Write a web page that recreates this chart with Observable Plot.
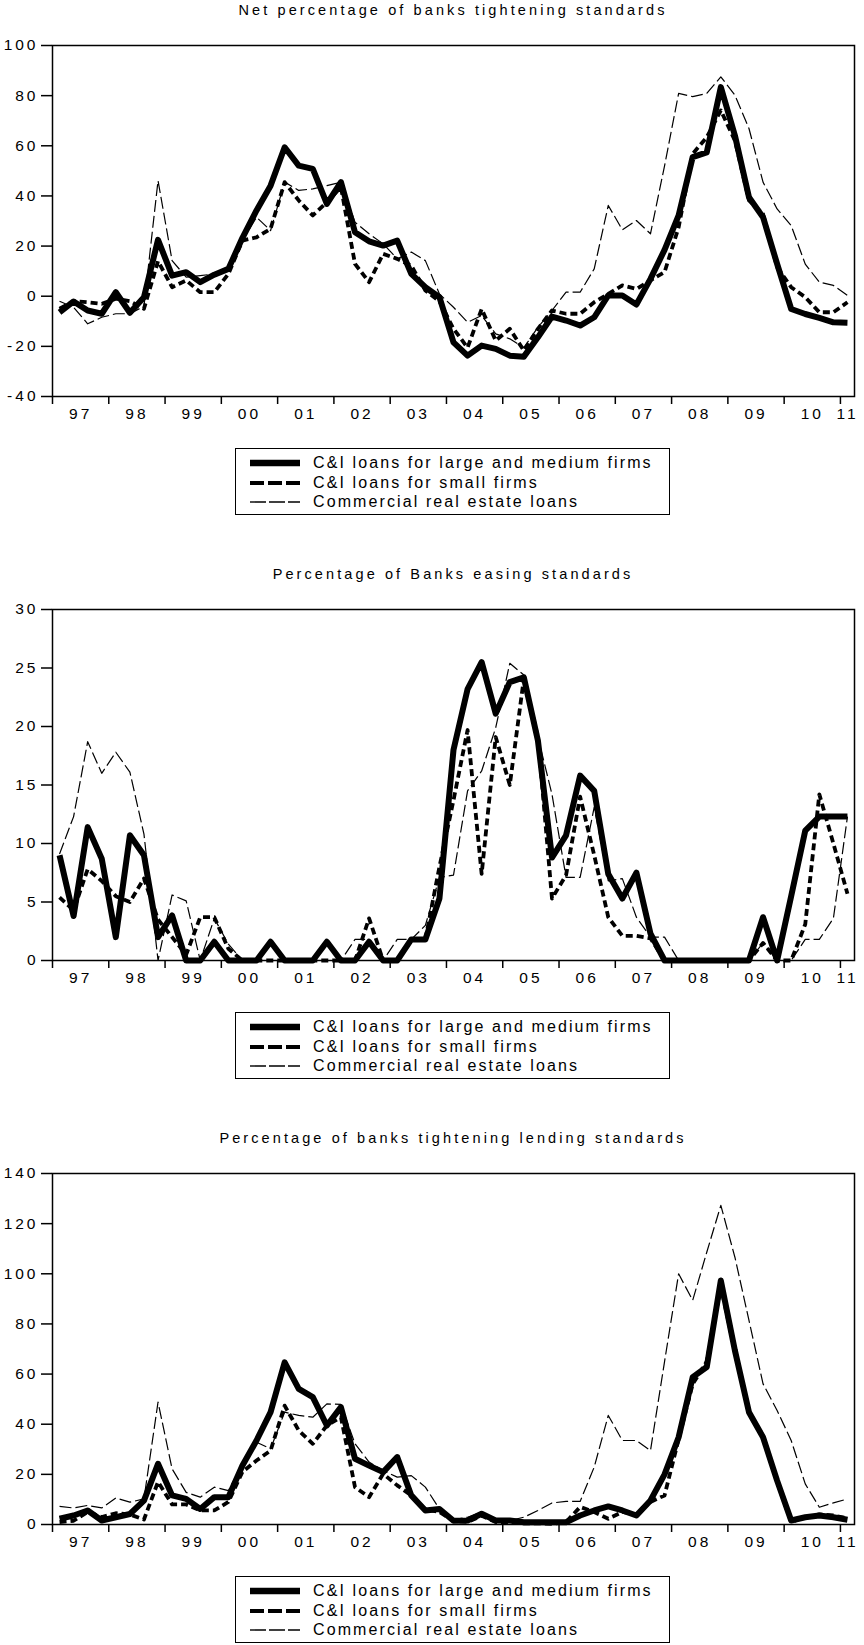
<!DOCTYPE html>
<html>
<head>
<meta charset="utf-8">
<script src="https://cdn.jsdelivr.net/npm/d3@7"></script>
<script src="https://cdn.jsdelivr.net/npm/@observablehq/plot@0.6"></script>
<style>
  html, body { margin: 0; padding: 0; background: white; }
  #page { position: relative; width: 864px; height: 1645px; font-family: Arial, "Liberation Sans", sans-serif; color: black; }
  .panel { position: absolute; left: 0; width: 864px; height: 540px; }
  .title { position: absolute; top: 0; left: 52px; width: 802px; text-align: center; font-size: 14.5px; letter-spacing: 3.1px; line-height: 20px; white-space: nowrap; }
  .chart { position: absolute; top: 30px; left: 0; }
  .legend { position: absolute; left: 235px; top: 448px; width: 435px; height: 67px; border: 1.5px solid black; box-sizing: border-box; }
  .row { position: absolute; left: 0; width: 100%; height: 20px; }
  .row svg { position: absolute; left: 14px; top: 4px; }
  .row span { position: absolute; left: 77px; top: 0; line-height: 20px; font-size: 16px; letter-spacing: 2.1px; white-space: nowrap; }
</style>
</head>
<body>
<div id="page"></div>
<script>
// Year tick labels (quarterly data 1997Q1 .. 2011Q1, 57 observations)
const yearLabels = ["97","98","99","00","01","02","03","04","05","06","07","08","09","10","11"];

const seriesNames = ["C&I loans for large and medium firms", "C&I loans for small firms", "Commercial real estate loans"];

// Panel 1: Net percentage of banks tightening standards
const largeNet = [-6.4,-2.1,-5.7,-7,1.6,-6.6,-0.4,22.5,8.2,9.6,5.6,8.6,10.9,23.3,34.2,44.1,59.4,52.1,50.8,36.8,45.5,25.5,21.9,20.2,22.2,8.9,3.6,-0.4,-18.4,-23.7,-19.7,-21,-23.7,-24.1,-16.4,-8.1,-9.7,-11.7,-8.4,0.3,0.3,-3.3,6.9,18.5,32.2,55.5,57.4,83.4,64.1,39.5,31.5,12.9,-5.1,-7.1,-8.6,-10.4,-10.6];
const smallNet = [-5,-2,-2.4,-3,-1,-2,-5,14,3.6,6.3,1.6,1.6,8.9,22.2,23.5,26.9,45.5,38.2,32.2,37.5,43.5,12.9,5.6,16.9,14.9,12.2,2.3,-2,-13,-20.5,-5.1,-17.7,-13,-21.7,-13,-5.7,-7,-7,-2.4,0.9,4.3,2.9,6.3,9.6,27.5,56.8,63.4,74.1,62.1,38.2,32.8,11.6,3.6,-0.4,-6.4,-6.4,-2.4];
const creNet = [-2,-4.4,-11,-8.4,-7,-7,-4,46.1,14.2,7.6,8.2,8.9,10.2,22.2,31.5,26.2,45.5,42.2,42.8,44.1,45.5,29.5,24.9,20.9,14.9,17.6,14.2,0.9,-4.4,-10.4,-7.7,-15,-17,-20.5,-12.4,-5.7,1.6,1.6,10.9,36.2,26.5,30.2,24.9,52,80.9,79.6,80.9,87.5,80.2,66.9,45.5,34.8,28.2,12.8,5.6,4.3,0.3];

// Panel 2: Percentage of Banks easing standards
const largeEase = [9,3.8,11.4,8.7,2,10.7,9,2,3.85,0,0,1.6,0,0,0,1.6,0,0,0,1.6,0,0,1.6,0,0,1.8,1.8,5.3,18,23.2,25.5,21.1,23.8,24.2,18.8,8.8,10.7,15.8,14.5,7.4,5.3,7.5,2.3,0,0,0,0,0,0,0,3.7,0,5.5,11.1,12.3,12.3,12.3];
const smallEase = [5.4,4.3,7.8,6.8,5.5,5,7,3.5,2,0.5,3.7,3.7,1,0,0,0,0,0,0,0,0,0,3.6,0,0,1.8,1.8,8,13.7,19.7,7.4,19.1,15,24.1,19.1,5.3,7.3,14,9,3.7,2.1,2.1,1.9,0,0,0,0,0,0,0,1.5,0,0,3.1,14.2,10,5.7];
const creEase = [9.1,12.3,18.7,16,17.8,16.1,10.8,0,5.6,5.1,0,3.6,1.4,0,0,0,0,0,0,0,0,1.8,1.8,0,1.8,1.8,3,7.1,7.3,14.5,16.2,19.9,25.4,24.4,19.1,14.2,7.1,7.1,13.1,6.8,7,3.7,2,2,0,0,0,0,0,0,1.5,0,0,1.8,1.8,3.6,12.3];

// Panel 3: Percentage of banks tightening lending standards
const largeTight = [2.3,3.6,5.6,1.6,2.9,4.2,9.5,24.2,11.6,10.2,6.2,10.9,10.9,23.5,33.5,44.8,64.7,54.1,50.8,39.5,46.8,26.2,23.5,20.9,26.9,11.6,5.6,6.2,1.5,1.6,4.3,1.6,1.6,0.9,0.9,0.9,0.9,3.6,5.6,7.2,5.6,3.6,9.6,20,34.8,58.8,62.8,97.3,69.4,44.8,34.8,17.5,1.6,2.9,3.6,2.9,1.9];
const smallTight = [1,1.5,5,3,4.5,4,2,17,8,8,5.6,5.6,9,21,25.5,29.5,47.4,37.5,32.2,39.5,42.8,14.9,10.9,20.2,15.6,11.6,6,5,1.5,1,3.5,1,1,0.5,0.5,0.3,1,7,5,2.3,5,4,9,11.6,34,56,65,95,69,45,35,17,1,3,4,3.6,2.5];
const creTight = [7.2,6.6,7.6,6.6,10.6,8.9,10.2,48.8,22.2,12.8,10.9,14.9,13.5,24.2,32.8,30.2,44.8,43.5,42.8,48.1,47.9,32.2,24.9,21.5,18.9,19.5,14.9,6.2,1.9,2.9,4.9,2.3,1.6,2.9,5.6,8.6,9.2,9.2,22.9,43.5,33.5,33.5,29.5,65,100,89.4,108.6,127.3,106.6,81.4,56.1,45.5,33.5,16.2,6.9,8.6,10.2];

const panels = [
  {title: "Net percentage of banks tightening standards", domain: [-40, 100], ticks: [-40,-20,0,20,40,60,80,100], data: [largeNet, smallNet, creNet]},
  {title: "Percentage of Banks easing standards", domain: [0, 30], ticks: [0,5,10,15,20,25,30], data: [largeEase, smallEase, creEase]},
  {title: "Percentage of banks tightening lending standards", domain: [0, 140], ticks: [0,20,40,60,80,100,120,140], data: [largeTight, smallTight, creTight]}
];

const styles = [
  {stroke: "black", strokeWidth: 6, strokeDasharray: null},
  {stroke: "black", strokeWidth: 3.8, strokeDasharray: "7,4"},
  {stroke: "black", strokeWidth: 1.2, strokeDasharray: "12,4"}
];

const nQ = largeNet.length; // 57 quarters
const yearStarts = d3.range(0, nQ, 4);
const labelPos = yearLabels.map((_, k) => k < yearLabels.length - 1 ? 4 * k + 2 : nQ - 0.5);
const labelAt = new Map(labelPos.map((p, k) => [p, yearLabels[k]]));

const page = document.getElementById("page");

panels.forEach((p, pi) => {
  const div = document.createElement("div");
  div.className = "panel";
  div.style.top = (pi * 564) + "px";
  page.appendChild(div);

  const t = document.createElement("div");
  t.className = "title";
  t.textContent = p.title;
  div.appendChild(t);

  const lines = p.data.map((vals, si) => Plot.line(vals.map((v, i) => ({x: i + 0.5, y: v})), {
    x: "x", y: "y",
    stroke: styles[si].stroke,
    strokeWidth: styles[si].strokeWidth,
    strokeDasharray: styles[si].strokeDasharray,
    strokeLinejoin: "round",
    strokeLinecap: "butt"
  }));

  const chart = Plot.plot({
    width: 864,
    height: 396,
    marginTop: 15,
    marginBottom: 30,
    marginLeft: 52,
    marginRight: 10,
    style: {fontFamily: "Arial, 'Liberation Sans', sans-serif", fontSize: "15.5px", letterSpacing: "3px", background: "white", overflow: "visible"},
    x: {domain: [0, nQ], axis: null},
    y: {domain: p.domain, axis: null},
    marks: [
      Plot.axisY({ticks: p.ticks, tickSize: 11, tickPadding: 3, tickFormat: d => String(d), label: null, strokeWidth: 1.5}),
      Plot.axisX({ticks: yearStarts, tickSize: 8, tickFormat: () => "", label: null, strokeWidth: 1.5}),
      Plot.axisX({ticks: labelPos, tickSize: 0, tickPadding: 11, tickFormat: d => labelAt.get(d), label: null}),
      ...lines,
      Plot.frame({stroke: "black", strokeWidth: 1.5})
    ]
  });
  chart.classList.add("chart");
  div.appendChild(chart);

  const lg = document.createElement("div");
  lg.className = "legend";
  seriesNames.forEach((name, si) => {
    const row = document.createElement("div");
    row.className = "row";
    row.style.top = (4 + si * 19.7) + "px";
    const s = styles[si];
    const sw = d3.create("svg").attr("width", 50).attr("height", 12);
    sw.append("line").attr("x1", 0).attr("x2", 50).attr("y1", 6).attr("y2", 6)
      .attr("stroke", s.stroke)
      .attr("stroke-width", si === 0 ? 6.5 : (si === 1 ? 4.2 : 1.4))
      .attr("stroke-dasharray", si === 1 ? "14,4" : (si === 2 ? "16,3" : null));
    row.appendChild(sw.node());
    const sp = document.createElement("span");
    sp.textContent = name;
    row.appendChild(sp);
    lg.appendChild(row);
  });
  div.appendChild(lg);
});
</script>
</body>
</html>
